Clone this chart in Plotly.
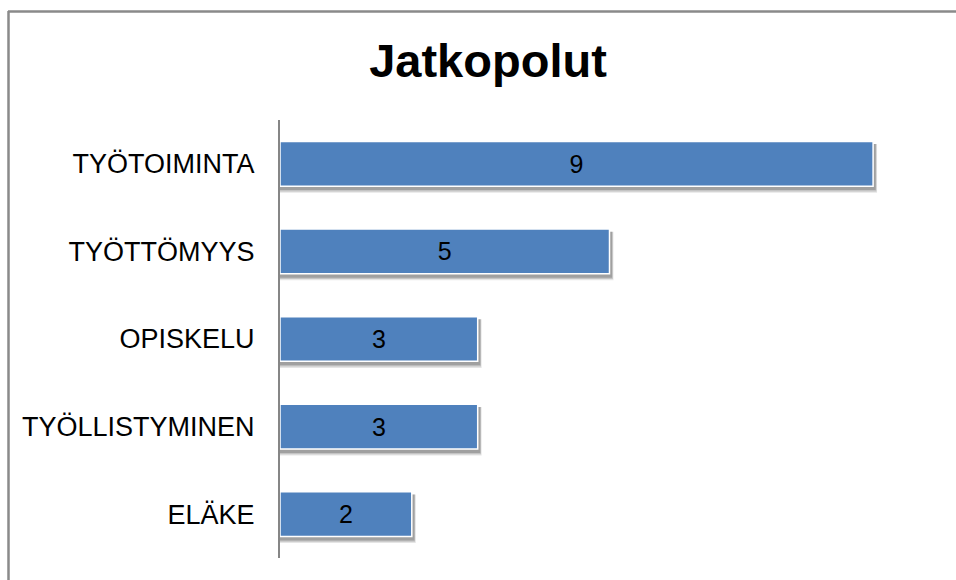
import plotly.graph_objects as go

categories = ["TYÖTOIMINTA", "TYÖTTÖMYYS", "OPISKELU", "TYÖLLISTYMINEN", "ELÄKE"]
values = [9, 5, 3, 3, 2]
title_text = "Jatkopolut"

W, H = 956, 580
L, R, T, B = 280, 17, 120, 22
pw, ph = W - L - R, H - T - B

def px_x(p):
    return (p - L) / pw

def px_y(p):
    return (H - B - p) / ph

FONT = "Arial, Liberation Sans, sans-serif"
BAR_W = 0.51

fig = go.Figure()

# soft drop shadows under bars (derived from data)
shapes = []
for i, v in enumerate(values):
    for k, (dy, op) in enumerate([(0.075, 0.10), (0.06, 0.14), (0.045, 0.18)]):
        shapes.append(dict(
            type="rect", xref="x", yref="y", layer="below",
            x0=0, x1=v + 0.06 - k * 0.01,
            y0=i - BAR_W / 2 + 0.03, y1=i + BAR_W / 2 + dy,
            fillcolor=f"rgba(0,0,0,{op})", line=dict(width=0),
        ))

fig.add_trace(go.Bar(
    x=values, y=categories, orientation="h",
    width=BAR_W,
    marker=dict(color="#4F81BD", line=dict(color="#FFFFFF", width=1.5)),
    text=[str(v) for v in values], textposition="inside",
    insidetextanchor="middle",
    textfont=dict(family=FONT, size=25, color="#000000"),
    hoverinfo="skip",
))

# chart frame (top + left edges visible)
shapes.append(dict(type="line", xref="paper", yref="paper",
                   x0=px_x(8), x1=px_x(W + 5), y0=px_y(11.5), y1=px_y(11.5),
                   line=dict(color="#8A8A8A", width=2.5)))
shapes.append(dict(type="line", xref="paper", yref="paper",
                   x0=px_x(8.5), x1=px_x(8.5), y0=px_y(11), y1=px_y(H + 5),
                   line=dict(color="#8A8A8A", width=2.5)))

fig.update_layout(
    width=W, height=H,
    margin=dict(l=L, r=R, t=T, b=B),
    paper_bgcolor="#FFFFFF", plot_bgcolor="#FFFFFF",
    showlegend=False,
    barmode="overlay",
    title=dict(text=f"<b>{title_text}</b>", x=488 / W, xanchor="center",
               y=1 - 61 / H, yanchor="middle", yref="container",
               font=dict(family=FONT, size=47, color="#000000")),
    xaxis=dict(range=[0, 10], visible=False, showgrid=False, zeroline=False),
    yaxis=dict(categoryorder="array", categoryarray=categories,
               autorange="reversed", showgrid=False, zeroline=False,
               showline=True, linecolor="#868686", linewidth=2,
               ticks="", ticklabelstandoff=18,
               tickfont=dict(family=FONT, size=27, color="#000000")),
    shapes=shapes,
    uniformtext=dict(minsize=10, mode="show"),
)

fig.write_html("out.html",
               config={"displayModeBar": False},
               post_script="document.body.style.margin='0';document.body.style.overflow='hidden';")
